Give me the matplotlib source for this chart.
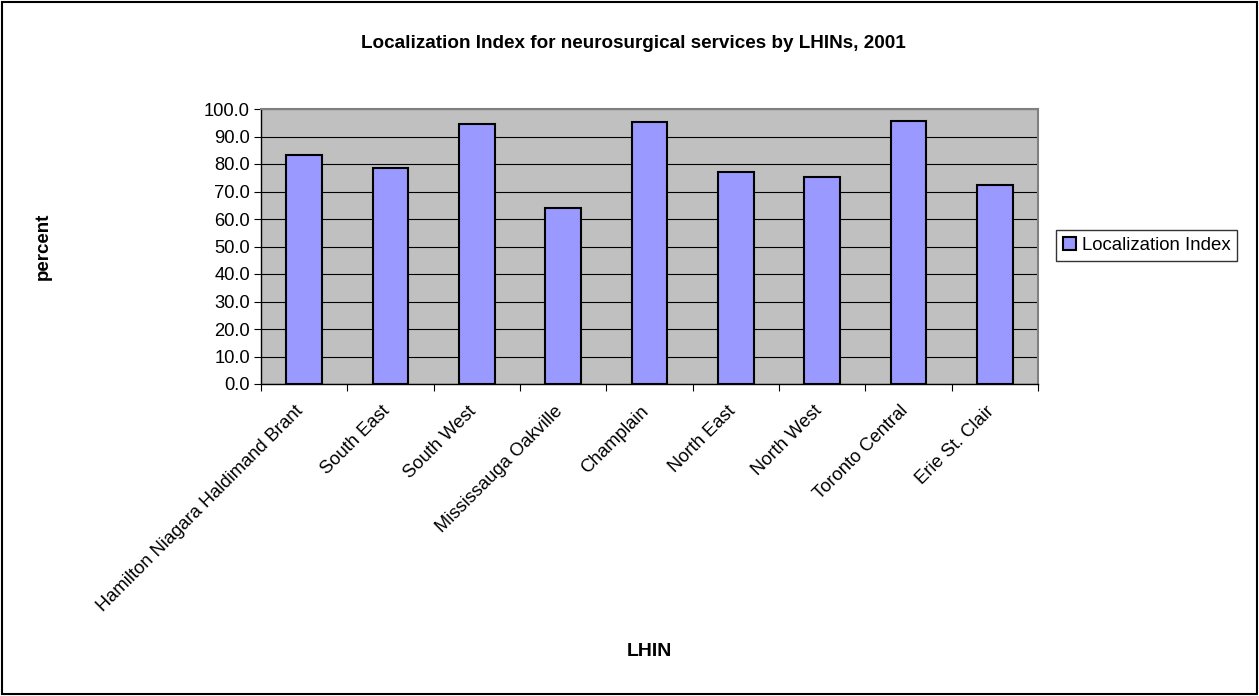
import matplotlib.pyplot as plt
import numpy as np

plt.rcParams['font.family'] = ['Liberation Sans', 'DejaVu Sans']

lhins = ['Hamilton Niagara Haldimand Brant', 'South East', 'South West',
         'Mississauga Oakville', 'Champlain', 'North East', 'North West',
         'Toronto Central', 'Erie St. Clair']
loc_index = [83.4, 78.4, 94.4, 64.1, 95.4, 77.1, 75.4, 95.8, 72.4]
yticks = np.arange(0, 101, 10)

W, H = 1259, 696
fig = plt.figure(figsize=(W / 100, H / 100), dpi=100)
ax = fig.add_axes([261 / W, 1 - 384 / H, (1038 - 261) / W, (384 - 109) / H])

x = np.arange(len(lhins))
ax.bar(x, loc_index, width=0.41, color='#9999ff', edgecolor='black',
       linewidth=1.5, label='Localization Index', zorder=3)

ax.set_facecolor('#c0c0c0')
ax.set_xlim(-0.5, len(lhins) - 0.5)
ax.set_ylim(0, 100)
ax.set_yticks(yticks)
ax.set_yticklabels([f'{v:.1f}' for v in yticks], fontsize=13.2)
ax.yaxis.grid(True, color='black', linewidth=0.8, zorder=1)
ax.set_axisbelow(True)

# category ticks sit between bars, names hang off the bar centres
ax.set_xticks(np.arange(-0.5, len(lhins)), minor=False)
ax.set_xticklabels([])
ax.set_xticks(x, minor=True)
ax.set_xticklabels(lhins, minor=True, rotation=45, ha='right', va='baseline',
                   rotation_mode='anchor', fontsize=13.2)
ax.tick_params(axis='x', which='minor', length=0, pad=20)
ax.tick_params(axis='x', which='major', length=5, direction='out', color='black')
ax.tick_params(axis='y', length=5, direction='out', color='black', pad=3)

for side in ['top', 'right']:
    ax.spines[side].set_color('#808080')
    ax.spines[side].set_linewidth(1.5)
for side in ['left', 'bottom']:
    ax.spines[side].set_color('black')
    ax.spines[side].set_linewidth(1)

fig.text(633 / W, 1 - 43 / H, 'Localization Index for neurosurgical services by LHINs, 2001',
         ha='center', va='center', fontsize=13.6, fontweight='bold')
fig.text(43 / W, 1 - 246 / H, 'percent', rotation=90, ha='center', va='center',
         fontsize=13.5, fontweight='bold')
fig.text(649 / W, 1 - 651 / H, 'LHIN', ha='center', va='center',
         fontsize=14, fontweight='bold')

leg = fig.legend(loc='center left', bbox_to_anchor=(1056 / W, 1 - 245.5 / H),
                 fontsize=13.4, frameon=True, fancybox=False, handlelength=0.75,
                 handleheight=0.75, handletextpad=0.3, borderpad=0.35,
                 borderaxespad=0)
leg.get_frame().set_edgecolor('black')
leg.get_frame().set_linewidth(1)

# outer figure border
fig.patches.append(plt.Rectangle((2 / W, 2 / H), 1 - 4 / W, 1 - 4 / H,
                                 transform=fig.transFigure, fill=False,
                                 edgecolor='black', linewidth=1.5))

fig.savefig('out.png', dpi=100)
